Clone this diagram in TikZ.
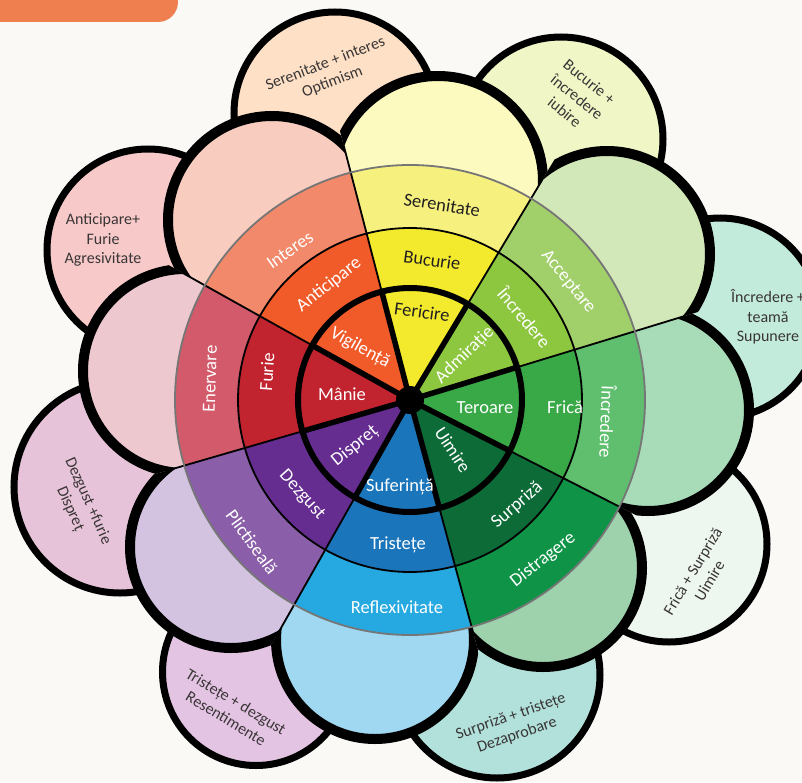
\documentclass[tikz,border=0pt]{standalone}
\usepackage{fontspec}
\setmainfont{Carlito}
\definecolor{bg}{HTML}{FAF9F6}
\definecolor{corner}{HTML}{EF7F4F}
\definecolor{dOpt}{HTML}{FDE0C5}
\definecolor{dIub}{HTML}{F1F6C6}
\definecolor{dSup}{HTML}{C3EBDC}
\definecolor{dUim}{HTML}{EEF7EF}
\definecolor{dDez}{HTML}{B1E1DA}
\definecolor{dRes}{HTML}{E4C4E3}
\definecolor{dDis}{HTML}{E6C3D8}
\definecolor{dAgr}{HTML}{F7C9C9}
\definecolor{pAcc}{HTML}{D3E8B8}
\definecolor{pSer}{HTML}{FCFABE}
\definecolor{pInt}{HTML}{F9CCC0}
\definecolor{pEne}{HTML}{EEC8CF}
\definecolor{pPli}{HTML}{D3C3E1}
\definecolor{pRef}{HTML}{9FD8F0}
\definecolor{pDis}{HTML}{9ED2AD}
\definecolor{pInc}{HTML}{A8DCB8}
\definecolor{oSer}{HTML}{F6F17F}
\definecolor{oAcc}{HTML}{A1CF6A}
\definecolor{oInc}{HTML}{5FBF6E}
\definecolor{oDis}{HTML}{0F9447}
\definecolor{oRef}{HTML}{26A9E0}
\definecolor{oPli}{HTML}{8A5EA8}
\definecolor{oEne}{HTML}{D25A6A}
\definecolor{oInt}{HTML}{F2896A}
\definecolor{cYel}{HTML}{F4EA2D}
\definecolor{cAdm}{HTML}{8DC63F}
\definecolor{cGrn}{HTML}{39A948}
\definecolor{cDkg}{HTML}{0D6B38}
\definecolor{cBlu}{HTML}{1B75BB}
\definecolor{cPur}{HTML}{662D91}
\definecolor{cRed}{HTML}{C1232F}
\definecolor{cOra}{HTML}{F15A29}
\definecolor{tdark}{HTML}{231F20}
\definecolor{rimgray}{HTML}{767676}
\begin{document}
\begin{tikzpicture}[x=1pt,y=1pt,
  dyad/.style={draw=black,line width=7},
  wl/.style={font=\fontsize{18.5}{20}\selectfont,inner sep=0,text=white},
  wd/.style={wl,text=tdark},
  dl/.style={font=\fontsize{16}{19.5}\selectfont,inner sep=0,align=center,text=tdark!90}]
\useasboundingbox (-410,-382) rectangle (392,400);
\fill[bg] (-410,-382) rectangle (392,400);
\fill[corner,rounded corners=20] (-440,430) rectangle (-232,378);
% dyad circles
\path[dyad,fill=dOpt] (-75,287) circle (101);
\path[dyad,fill=dIub] (151,261) circle (102);
\path[dyad,fill=dSup] (310,82) circle (100);
\path[dyad,fill=dUim] (259,-144) circle (98);
\path[dyad,fill=dDez] (87,-275) circle (103);
\path[dyad,fill=dRes] (-154,-272) circle (93.5);
\path[dyad,fill=dDis] (-290,-87) circle (106);
\path[dyad,fill=dAgr] (-262,150) circle (101);
% petals fills
\foreach \a/\b/\cx/\cy/\r/\col in {17/59/197/146/103/pAcc, 59/104.6/28/219/105/pSer,
  104.6/150.8/-138/180/104/pInt, 150.8/196.2/-225/29/102/pEne,
  196.2/240.5/-179/-147/101/pPli, 240.5/285.2/-35/-240/99/pRef,
  285.2/333/133/-168/99/pDis, 333/377/238/-10/101/pInc}{
  \begin{scope}
    \clip (0,0) -- (\a:600) arc[start angle=\a,end angle=\b,radius=600] -- cycle;
    \fill[\col] (\cx,\cy) circle (\r);
  \end{scope}
}
% thin rays between petals
\foreach \ang/\ax/\ay/\ar/\bx/\by/\br in {17/197/146/103/238/-10/101, 59/28/219/105/197/146/103,
  104.6/-138/180/104/28/219/105, 150.8/-225/29/102/-138/180/104,
  196.2/-179/-147/101/-225/29/102, 240.5/-35/-240/99/-179/-147/101,
  285.2/133/-168/99/-35/-240/99, 333/238/-10/101/133/-168/99}{
  \begin{scope}
    \clip (\ax,\ay) circle (\ar);
    \clip (\bx,\by) circle (\br);
    \draw[line width=1.8] (0,0) -- (\ang:400);
  \end{scope}
}
% petal outlines
\foreach \a/\b/\cx/\cy/\r in {17/59/197/146/103, 59/104.6/28/219/105,
  104.6/150.8/-138/180/104, 150.8/196.2/-225/29/102,
  196.2/240.5/-179/-147/101, 240.5/285.2/-35/-240/99,
  285.2/333/133/-168/99, 333/377/238/-10/101}{
  \begin{scope}
    \clip (0,0) -- (\a:600) arc[start angle=\a,end angle=\b,radius=600] -- cycle;
    \draw[line width=10] (\cx,\cy) circle (\r);
  \end{scope}
}
% wheel
\def\Ra{112}\def\Rb{172}\def\Rc{235}
\foreach \a/\b/\ci/\co in {17/59/cAdm/oAcc, 59/104.6/cYel/oSer, 104.6/150.8/cOra/oInt,
  150.8/196.2/cRed/oEne, 196.2/240.5/cPur/oPli, 240.5/285.2/cBlu/oRef,
  285.2/333/cDkg/oDis, 333/377/cGrn/oInc}{
  \fill[\co] (\a:\Rc) arc[start angle=\a,end angle=\b,radius=\Rc] -- (\b:\Rb)
     arc[start angle=\b,end angle=\a,radius=\Rb] -- cycle;
  \fill[\ci] (0,0) -- (\a:\Rb) arc[start angle=\a,end angle=\b,radius=\Rb] -- cycle;
}
\foreach \a in {17,59,104.6,150.8,196.2,240.5,285.2,333}{
  \draw[line width=1.8] (\a:\Ra) -- (\a:\Rc);
}
\draw[line width=1.8] (0,0) circle (\Rb);
\draw[rimgray,line width=1.8] (0,0) circle (\Rc);
\foreach \a in {17,59,104.6,150.8,196.2,240.5,285.2,333}{
  \draw[line width=5.5] (0,0) -- (\a:\Ra);
}
\draw[line width=6] (0,0) circle (\Ra);
\fill[black] (0,0) circle (14);
% wheel labels
\node[wd,rotate=-8] (fericire) at (12,88) {Fericire};
\node[wd,rotate=-8] (bucurie) at (22,140) {Bucurie};
\node[wd,rotate=-9] (serenitate) at (32,195) {Serenitate};
\node[wl,rotate=44] (admiratie) at (55,45) {Admirație};
\node[wl,rotate=-50] (incrm) at (115,83) {Încredere};
\node[wl,rotate=-51] (acceptare) at (158,118) {Acceptare};
\node[wl] (teroare) at (75,-8) {Teroare};
\node[wl] (frica) at (155,-7) {Frică};
\node[wl,rotate=-92] (incro) at (198,-22) {Încredere};
\node[wl,rotate=-57] (uimire) at (43,-50) {Uimire};
\node[wl,rotate=41] (surpriza) at (107,-105) {Surpriză};
\node[wl,rotate=38] (distragere) at (133,-160) {Distragere};
\node[wl] (suferinta) at (-10,-87) {Suferință};
\node[wl] (tristete) at (-12,-145) {Tristețe};
\node[wl] (reflexivitate) at (-13,-207) {Reflexivitate};
\node[wl,rotate=39] (dispret) at (-55,-46) {Dispreț};
\node[wl,rotate=-48] (dezgust) at (-108,-95) {Dezgust};
\node[wl,rotate=-54] (plictiseala) at (-158,-142) {Plictiseală};
\node[wl] (manie) at (-68,6) {Mânie};
\node[wl,rotate=86] (furie) at (-143,28) {Furie};
\node[wl,rotate=88] (enervare) at (-200,21) {Enervare};
\node[wl,rotate=-29] (vigilenta) at (-50,52) {Vigilență};
\node[wl,rotate=38] (anticipare) at (-81,115) {Anticipare};
\node[wl,rotate=35] (interes) at (-120,150) {Interes};
% dyad labels
\node[dl,rotate=21] (optimism) at (-81,327) {Serenitate + interes\\Optimism};
\node[dl,rotate=-39] (iubire) at (167,303) {Bucurie +\\încredere\\iubire};
\node[dl] (supunere) at (358,83) {Încredere +\\teamă\\Supunere};
\node[dl,rotate=59] (uimired) at (291,-176) {Frică + Surpriză\\Uimire};
\node[dl,rotate=19] (dezaprobare) at (104,-326) {Surpriză + tristețe\\Dezaprobare};
\node[dl,rotate=-31] (resentimente) at (-179,-310) {Tristețe + dezgust\\Resentimente};
\node[dl,rotate=-66] (dispretd) at (-331,-105) {Dezgust +furie\\Dispreț};
\node[dl] (agresivitate) at (-307,160) {Anticipare+\\Furie\\Agresivitate};
\end{tikzpicture}
\end{document}
